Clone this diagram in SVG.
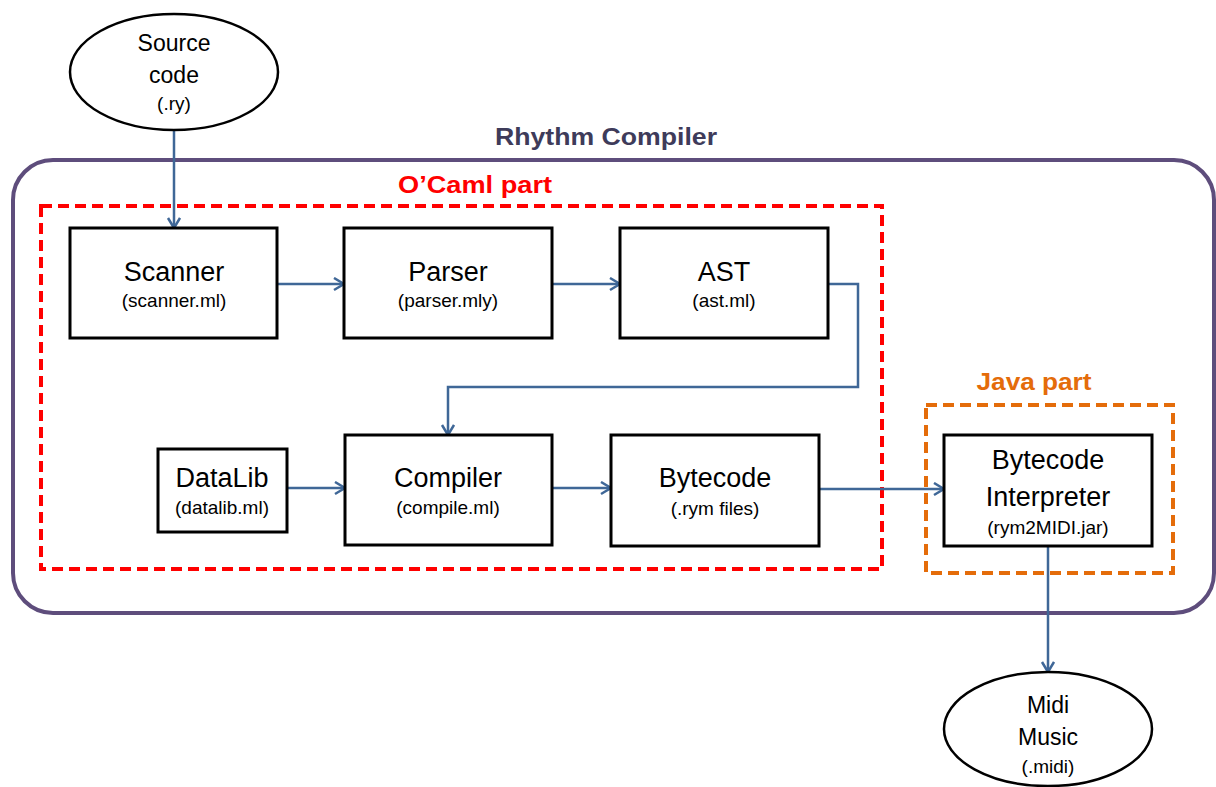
<svg xmlns="http://www.w3.org/2000/svg" width="1216" height="787" viewBox="0 0 1216 787">
<style>
  .box { fill: #ffffff; stroke: #000000; stroke-width: 3; }
  .ell { fill: #ffffff; stroke: #000000; stroke-width: 2.5; }
  .main { font-family: "Liberation Sans", Arial, sans-serif; font-size: 27px; fill: #000000; text-anchor: middle; }
  .sub { font-family: "Liberation Sans", Arial, sans-serif; font-size: 19px; fill: #000000; text-anchor: middle; }
  .big { font-size: 23px; }
  .title { font-family: "Liberation Sans", Arial, sans-serif; font-size: 24px; font-weight: bold; text-anchor: middle; }
  .conn { fill: none; stroke: #3f6797; stroke-width: 2.5; marker-end: url(#arr); }
</style>
<defs>
  <marker id="arr" markerUnits="userSpaceOnUse" markerWidth="16" markerHeight="16" refX="11" refY="7" orient="auto">
    <path d="M1,1 L11,7 L1,13" fill="none" stroke="#3f6797" stroke-width="2.5"/>
  </marker>
</defs>
<rect width="1216" height="787" fill="#ffffff"/>

<g id="rhythm-compiler">
  <rect x="13" y="160" width="1201" height="453" rx="40" ry="40" fill="none" stroke="#5e4d7c" stroke-width="4"/>
  <text class="title" x="606" y="145" fill="#3e3b5a" textLength="222" lengthAdjust="spacingAndGlyphs">Rhythm Compiler</text>
</g>
<g id="ocaml-part">
  <rect x="41" y="206" width="841" height="363" fill="none" stroke="#ff0000" stroke-width="4" stroke-dasharray="11 6"/>
  <text class="title" x="475" y="193" fill="#ff0000" textLength="154" lengthAdjust="spacingAndGlyphs">O’Caml part</text>
</g>
<g id="java-part">
  <rect x="926" y="405" width="247" height="168" fill="none" stroke="#e46c0a" stroke-width="4" stroke-dasharray="11 6"/>
  <text class="title" x="1034" y="390" fill="#e46c0a" textLength="115" lengthAdjust="spacingAndGlyphs">Java part</text>
</g>

<g id="connectors">
  <path class="conn" d="M174,130 L174,228"/>
  <path class="conn" d="M277,284 L344,284"/>
  <path class="conn" d="M552,284 L620,284"/>
  <path class="conn" d="M828,284 L858,284 L858,387 L448,387 L448,435"/>
  <path class="conn" d="M287,488 L345,488"/>
  <path class="conn" d="M552,488 L611,488"/>
  <path class="conn" d="M819,489 L944,489"/>
  <path class="conn" d="M1048,546 L1048,672"/>
</g>

<g id="source-code">
  <ellipse class="ell" cx="174" cy="72" rx="104" ry="58"/>
  <text class="sub big" x="174" y="51">Source</text>
  <text class="sub big" x="174" y="83">code</text>
  <text class="sub" x="174" y="110">(.ry)</text>
</g>
<g id="scanner">
  <rect class="box" x="70" y="228" width="207" height="110"/>
  <text class="main" x="174" y="281">Scanner</text>
  <text class="sub" x="174" y="307">(scanner.ml)</text>
</g>
<g id="parser">
  <rect class="box" x="344" y="228" width="208" height="110"/>
  <text class="main" x="448" y="281">Parser</text>
  <text class="sub" x="448" y="307">(parser.mly)</text>
</g>
<g id="ast">
  <rect class="box" x="620" y="228" width="208" height="110"/>
  <text class="main" x="724" y="281">AST</text>
  <text class="sub" x="724" y="307">(ast.ml)</text>
</g>
<g id="datalib">
  <rect class="box" x="158" y="449" width="129" height="83"/>
  <text class="main" x="222" y="487">DataLib</text>
  <text class="sub" x="222" y="514">(datalib.ml)</text>
</g>
<g id="compiler">
  <rect class="box" x="345" y="435" width="207" height="110"/>
  <text class="main" x="448" y="487">Compiler</text>
  <text class="sub" x="448" y="514">(compile.ml)</text>
</g>
<g id="bytecode">
  <rect class="box" x="611" y="435" width="208" height="111"/>
  <text class="main" x="715" y="487">Bytecode</text>
  <text class="sub" x="715" y="515">(.rym files)</text>
</g>
<g id="interpreter">
  <rect class="box" x="944" y="435" width="208" height="111"/>
  <text class="main" x="1048" y="469">Bytecode</text>
  <text class="main" x="1048" y="506">Interpreter</text>
  <text class="sub" x="1048" y="534">(rym2MIDI.jar)</text>
</g>
<g id="midi-music">
  <ellipse class="ell" cx="1048" cy="729" rx="104" ry="57"/>
  <text class="sub big" x="1048" y="713">Midi</text>
  <text class="sub big" x="1048" y="745">Music</text>
  <text class="sub" x="1048" y="773">(.midi)</text>
</g>
</svg>
